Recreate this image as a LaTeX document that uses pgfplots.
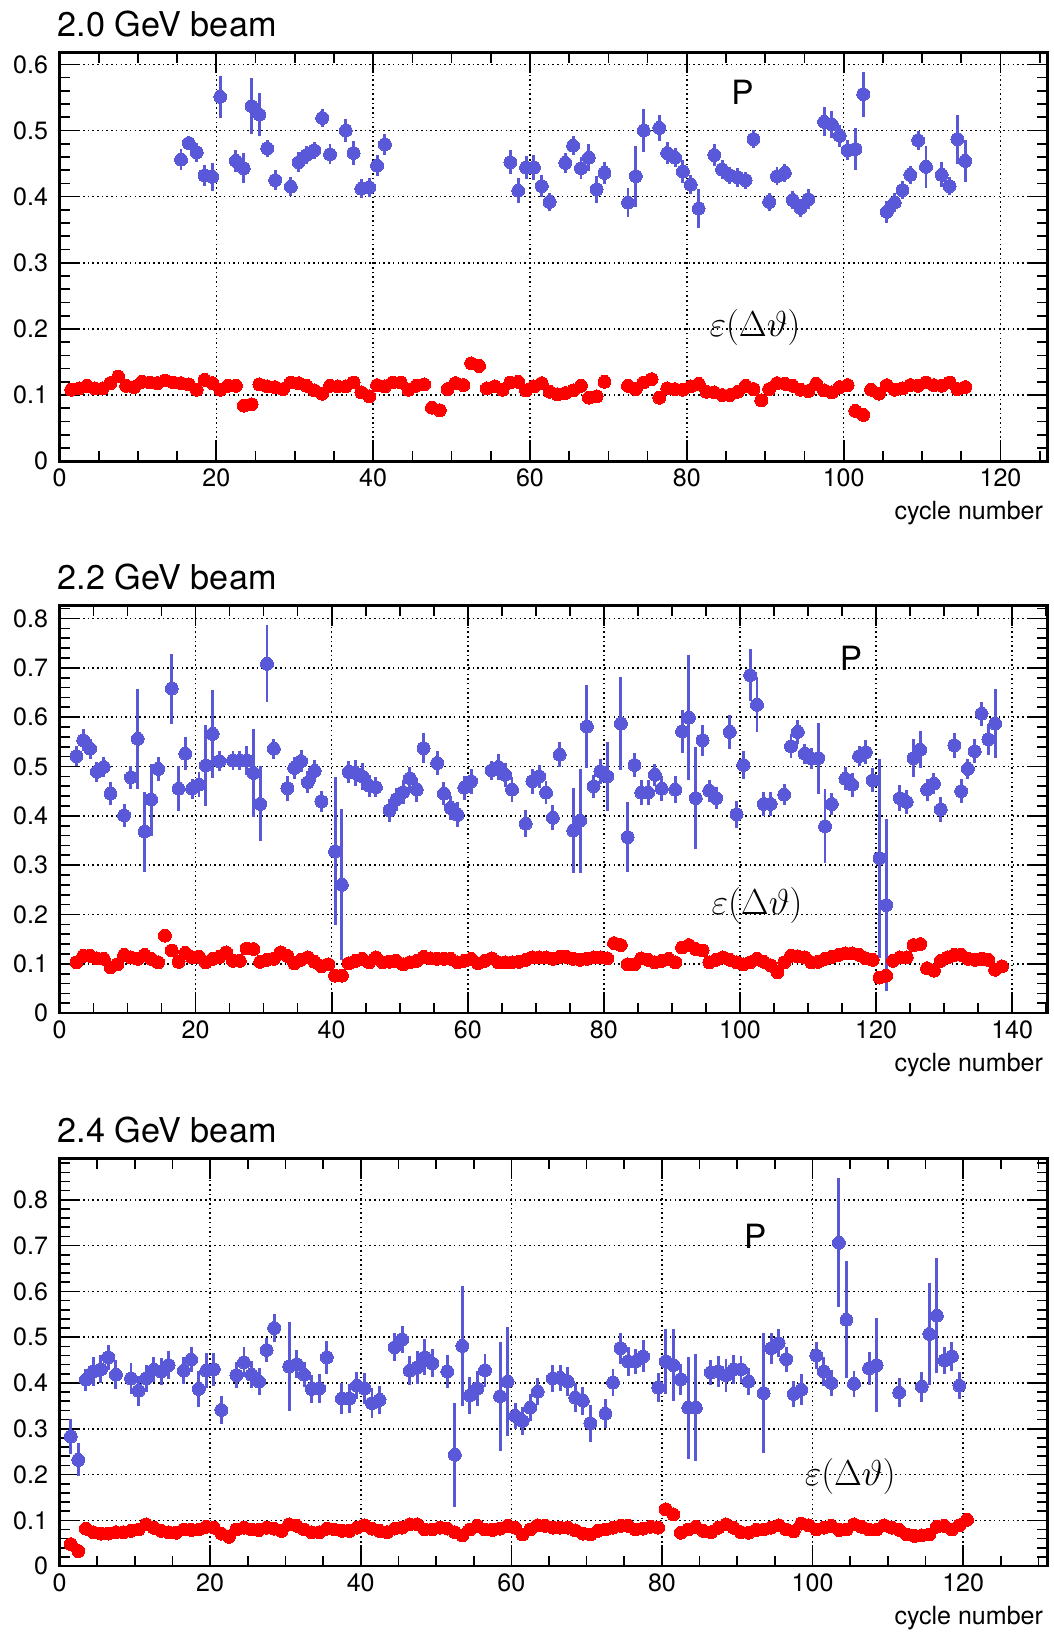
\documentclass[border=0pt]{standalone}
\usepackage{fontspec}
\setmainfont{TeX Gyre Heros}
\usepackage{pgfplots}
\pgfplotsset{compat=1.18}
\usepackage{pgfplotstable}
\definecolor{pblue}{RGB}{88,88,216}
\definecolor{ered}{RGB}{255,0,0}

% ---------- 2.0 GeV ----------
\pgfplotstableread{
x y e
15.5 0.456 0.016
16.5 0.481 0.011
17.5 0.467 0.014
18.5 0.432 0.016
19.5 0.430 0.021
20.5 0.551 0.032
22.5 0.454 0.017
23.5 0.443 0.023
24.5 0.537 0.043
25.5 0.524 0.032
26.5 0.473 0.013
27.5 0.425 0.015
29.5 0.415 0.014
30.5 0.452 0.015
31.5 0.463 0.014
32.5 0.470 0.013
33.5 0.519 0.014
34.5 0.464 0.015
36.5 0.500 0.017
37.5 0.466 0.018
38.5 0.412 0.014
39.5 0.414 0.014
40.5 0.447 0.016
41.5 0.479 0.016
57.5 0.452 0.018
58.5 0.409 0.019
59.5 0.444 0.018
60.5 0.444 0.019
61.5 0.416 0.017
62.5 0.392 0.013
64.5 0.451 0.015
65.5 0.477 0.014
66.5 0.443 0.017
67.5 0.459 0.020
68.5 0.411 0.020
69.5 0.436 0.017
72.5 0.391 0.022
73.5 0.431 0.046
74.5 0.500 0.033
76.5 0.504 0.020
77.5 0.466 0.017
78.5 0.459 0.014
79.5 0.438 0.017
80.5 0.418 0.014
81.5 0.382 0.030
83.5 0.463 0.017
84.5 0.441 0.014
85.5 0.432 0.013
86.5 0.429 0.014
87.5 0.425 0.013
88.5 0.487 0.014
90.5 0.392 0.013
91.5 0.431 0.014
92.5 0.436 0.014
93.5 0.395 0.014
94.5 0.383 0.014
95.5 0.396 0.015
97.5 0.513 0.022
98.5 0.509 0.021
99.5 0.492 0.017
100.5 0.470 0.015
101.5 0.472 0.032
102.5 0.555 0.034
105.5 0.377 0.017
106.5 0.391 0.014
107.5 0.410 0.014
108.5 0.433 0.014
109.5 0.485 0.015
110.5 0.445 0.032
112.5 0.433 0.019
113.5 0.416 0.013
114.5 0.487 0.037
115.5 0.454 0.032
}\pA

\pgfplotstableread{
x y
1.5 0.108
2.5 0.110
3.5 0.114
4.5 0.110
5.5 0.110
6.5 0.118
7.5 0.128
8.5 0.114
9.5 0.112
10.5 0.120
11.5 0.119
12.5 0.118
13.5 0.122
14.5 0.119
15.5 0.118
16.5 0.116
17.5 0.108
18.5 0.123
19.5 0.118
20.5 0.108
21.5 0.114
22.5 0.114
23.5 0.084
24.5 0.086
25.5 0.116
26.5 0.113
27.5 0.112
28.5 0.109
29.5 0.119
30.5 0.118
31.5 0.114
32.5 0.107
33.5 0.102
34.5 0.114
35.5 0.113
36.5 0.113
37.5 0.119
38.5 0.104
39.5 0.098
40.5 0.115
41.5 0.113
42.5 0.119
43.5 0.119
44.5 0.108
45.5 0.114
46.5 0.116
47.5 0.081
48.5 0.077
49.5 0.109
50.5 0.118
51.5 0.115
52.5 0.148
53.5 0.144
54.5 0.110
55.5 0.113
56.5 0.108
57.5 0.119
58.5 0.120
59.5 0.107
60.5 0.113
61.5 0.118
62.5 0.105
63.5 0.101
64.5 0.103
65.5 0.107
66.5 0.114
67.5 0.096
68.5 0.098
69.5 0.120
72.5 0.114
73.5 0.109
74.5 0.119
75.5 0.124
76.5 0.096
77.5 0.110
78.5 0.109
79.5 0.108
80.5 0.113
81.5 0.117
82.5 0.105
83.5 0.104
84.5 0.100
85.5 0.100
86.5 0.105
87.5 0.114
88.5 0.109
89.5 0.092
90.5 0.109
91.5 0.118
92.5 0.117
93.5 0.114
94.5 0.108
95.5 0.106
96.5 0.117
97.5 0.107
98.5 0.104
99.5 0.112
100.5 0.115
101.5 0.076
102.5 0.070
103.5 0.108
104.5 0.102
105.5 0.115
106.5 0.108
107.5 0.110
108.5 0.115
109.5 0.114
110.5 0.119
111.5 0.115
112.5 0.114
113.5 0.119
114.5 0.109
115.5 0.112
}\rA

% ---------- 2.2 GeV ----------
\pgfplotstableread{
x y e
2.5 0.521 0.021
3.5 0.553 0.022
4.5 0.536 0.020
5.5 0.489 0.021
6.5 0.499 0.020
7.5 0.445 0.024
9.5 0.401 0.023
10.5 0.478 0.023
11.5 0.556 0.101
12.5 0.368 0.081
13.5 0.433 0.073
14.5 0.495 0.024
16.5 0.658 0.071
17.5 0.455 0.045
18.5 0.526 0.033
19.5 0.455 0.020
20.5 0.463 0.025
21.5 0.502 0.082
22.5 0.566 0.089
23.5 0.511 0.020
25.5 0.512 0.020
26.5 0.512 0.020
27.5 0.512 0.030
28.5 0.487 0.089
29.5 0.424 0.076
30.5 0.708 0.078
31.5 0.536 0.020
33.5 0.456 0.025
34.5 0.497 0.022
35.5 0.511 0.022
36.5 0.468 0.022
37.5 0.491 0.022
38.5 0.429 0.021
40.5 0.328 0.150
41.5 0.260 0.153
42.5 0.489 0.023
43.5 0.487 0.027
44.5 0.480 0.027
45.5 0.461 0.022
46.5 0.458 0.020
48.5 0.411 0.024
49.5 0.433 0.023
50.5 0.448 0.024
51.5 0.476 0.022
52.5 0.453 0.024
53.5 0.537 0.030
55.5 0.507 0.025
56.5 0.445 0.023
57.5 0.416 0.024
58.5 0.402 0.025
59.5 0.457 0.024
60.5 0.470 0.025
63.5 0.492 0.020
64.5 0.499 0.027
65.5 0.483 0.024
66.5 0.453 0.025
68.5 0.384 0.027
69.5 0.470 0.025
70.5 0.480 0.024
71.5 0.447 0.024
72.5 0.396 0.025
73.5 0.524 0.025
75.5 0.370 0.086
76.5 0.390 0.105
77.5 0.581 0.085
78.5 0.460 0.023
79.5 0.490 0.025
80.5 0.480 0.070
82.5 0.587 0.095
83.5 0.357 0.070
84.5 0.503 0.025
85.5 0.447 0.025
86.5 0.447 0.025
87.5 0.483 0.023
88.5 0.455 0.025
90.5 0.453 0.027
91.5 0.571 0.044
92.5 0.599 0.127
93.5 0.436 0.104
94.5 0.553 0.031
95.5 0.451 0.022
96.5 0.436 0.023
98.5 0.570 0.034
99.5 0.403 0.028
100.5 0.503 0.029
101.5 0.685 0.053
102.5 0.625 0.056
103.5 0.424 0.024
104.5 0.424 0.024
106.5 0.443 0.022
107.5 0.541 0.024
108.5 0.570 0.024
109.5 0.526 0.020
110.5 0.516 0.021
111.5 0.517 0.072
112.5 0.379 0.075
113.5 0.424 0.023
115.5 0.475 0.023
116.5 0.463 0.024
117.5 0.521 0.020
118.5 0.529 0.024
119.5 0.472 0.024
120.5 0.314 0.202
121.5 0.219 0.174
123.5 0.436 0.026
124.5 0.428 0.025
125.5 0.517 0.038
126.5 0.534 0.038
127.5 0.453 0.022
128.5 0.465 0.021
129.5 0.413 0.025
131.5 0.543 0.025
132.5 0.450 0.024
133.5 0.495 0.021
134.5 0.531 0.024
135.5 0.607 0.024
136.5 0.555 0.031
137.5 0.587 0.070
}\pB

\pgfplotstableread{
x y
2.5 0.103
3.5 0.116
4.5 0.116
5.5 0.111
6.5 0.110
7.5 0.093
8.5 0.099
9.5 0.118
10.5 0.113
11.5 0.110
12.5 0.118
13.5 0.110
14.5 0.103
15.5 0.157
16.5 0.127
17.5 0.104
18.5 0.122
19.5 0.113
20.5 0.114
21.5 0.103
22.5 0.110
23.5 0.114
24.5 0.123
25.5 0.106
26.5 0.106
27.5 0.131
28.5 0.130
29.5 0.104
30.5 0.108
31.5 0.110
32.5 0.123
33.5 0.116
34.5 0.101
35.5 0.108
36.5 0.113
37.5 0.104
38.5 0.095
39.5 0.099
40.5 0.076
41.5 0.076
42.5 0.101
43.5 0.106
44.5 0.110
45.5 0.103
46.5 0.113
47.5 0.103
48.5 0.104
49.5 0.106
50.5 0.099
51.5 0.103
52.5 0.106
53.5 0.114
54.5 0.111
55.5 0.110
56.5 0.110
57.5 0.110
58.5 0.103
59.5 0.106
60.5 0.110
61.5 0.101
62.5 0.106
63.5 0.111
64.5 0.103
65.5 0.103
66.5 0.103
67.5 0.104
68.5 0.108
69.5 0.113
70.5 0.113
71.5 0.113
72.5 0.110
73.5 0.114
74.5 0.114
75.5 0.110
76.5 0.108
77.5 0.110
78.5 0.113
79.5 0.113
80.5 0.111
81.5 0.142
82.5 0.138
83.5 0.099
84.5 0.099
85.5 0.111
86.5 0.108
87.5 0.103
88.5 0.106
89.5 0.110
90.5 0.103
91.5 0.133
92.5 0.138
93.5 0.130
94.5 0.127
95.5 0.103
96.5 0.108
97.5 0.113
98.5 0.108
99.5 0.103
100.5 0.099
101.5 0.103
102.5 0.110
103.5 0.104
104.5 0.097
105.5 0.083
106.5 0.103
107.5 0.116
108.5 0.115
109.5 0.113
110.5 0.103
111.5 0.104
112.5 0.110
113.5 0.114
114.5 0.118
115.5 0.121
116.5 0.121
117.5 0.118
118.5 0.111
119.5 0.108
120.5 0.072
121.5 0.076
122.5 0.106
123.5 0.113
124.5 0.113
125.5 0.138
126.5 0.140
127.5 0.091
128.5 0.086
129.5 0.106
130.5 0.113
131.5 0.118
132.5 0.118
133.5 0.110
134.5 0.108
135.5 0.110
136.5 0.108
137.5 0.088
138.5 0.095
}\rB

% ---------- 2.4 GeV ----------
\pgfplotstableread{
x y e
1.5 0.283 0.039
2.5 0.232 0.036
3.5 0.407 0.024
4.5 0.425 0.031
5.5 0.430 0.031
6.5 0.456 0.028
7.5 0.418 0.032
9.5 0.410 0.033
10.5 0.383 0.033
11.5 0.410 0.029
12.5 0.429 0.027
13.5 0.425 0.029
14.5 0.439 0.030
16.5 0.427 0.030
17.5 0.451 0.027
18.5 0.387 0.039
19.5 0.427 0.038
20.5 0.430 0.036
21.5 0.341 0.030
23.5 0.417 0.028
24.5 0.445 0.033
25.5 0.418 0.030
26.5 0.403 0.030
27.5 0.472 0.027
28.5 0.520 0.030
30.5 0.436 0.097
31.5 0.441 0.030
32.5 0.418 0.027
33.5 0.387 0.031
34.5 0.388 0.032
35.5 0.456 0.036
37.5 0.366 0.033
38.5 0.366 0.031
39.5 0.394 0.030
40.5 0.388 0.033
41.5 0.356 0.032
42.5 0.363 0.031
44.5 0.478 0.031
45.5 0.495 0.029
46.5 0.427 0.031
47.5 0.434 0.036
48.5 0.456 0.039
49.5 0.443 0.031
51.5 0.425 0.035
52.5 0.243 0.113
53.5 0.481 0.131
54.5 0.373 0.041
55.5 0.388 0.038
56.5 0.428 0.036
58.5 0.371 0.119
59.5 0.403 0.119
60.5 0.328 0.028
61.5 0.317 0.030
62.5 0.346 0.029
63.5 0.381 0.029
65.5 0.410 0.029
66.5 0.411 0.029
67.5 0.403 0.031
68.5 0.368 0.031
69.5 0.361 0.031
70.5 0.312 0.040
72.5 0.333 0.031
73.5 0.401 0.030
74.5 0.476 0.034
75.5 0.447 0.031
76.5 0.447 0.028
77.5 0.458 0.035
79.5 0.390 0.032
80.5 0.447 0.071
81.5 0.439 0.078
82.5 0.408 0.034
83.5 0.346 0.111
84.5 0.346 0.117
86.5 0.423 0.028
87.5 0.425 0.034
88.5 0.417 0.036
89.5 0.429 0.031
90.5 0.430 0.029
91.5 0.403 0.030
93.5 0.378 0.131
94.5 0.476 0.034
95.5 0.487 0.030
96.5 0.452 0.027
97.5 0.376 0.029
98.5 0.385 0.034
100.5 0.460 0.030
101.5 0.425 0.031
102.5 0.400 0.028
103.5 0.706 0.141
104.5 0.538 0.128
105.5 0.398 0.028
107.5 0.432 0.036
108.5 0.439 0.103
111.5 0.379 0.031
114.5 0.392 0.033
115.5 0.507 0.112
116.5 0.547 0.125
117.5 0.449 0.030
118.5 0.458 0.031
119.5 0.394 0.030
}\pC

\pgfplotstableread{
x y
1.5 0.048
2.5 0.033
3.5 0.082
4.5 0.074
5.5 0.071
6.5 0.071
7.5 0.074
8.5 0.074
9.5 0.077
10.5 0.080
11.5 0.091
12.5 0.084
13.5 0.077
14.5 0.074
15.5 0.073
16.5 0.080
17.5 0.079
18.5 0.080
19.5 0.086
20.5 0.084
21.5 0.071
22.5 0.064
23.5 0.080
24.5 0.084
25.5 0.080
26.5 0.079
27.5 0.084
28.5 0.082
29.5 0.077
30.5 0.091
31.5 0.088
32.5 0.080
33.5 0.074
34.5 0.074
35.5 0.082
36.5 0.080
37.5 0.077
38.5 0.077
39.5 0.084
40.5 0.089
41.5 0.082
42.5 0.077
43.5 0.074
44.5 0.082
45.5 0.084
46.5 0.091
47.5 0.091
48.5 0.080
49.5 0.080
50.5 0.084
51.5 0.082
52.5 0.074
53.5 0.067
54.5 0.080
55.5 0.088
56.5 0.080
57.5 0.079
58.5 0.082
59.5 0.088
60.5 0.084
61.5 0.069
62.5 0.080
63.5 0.089
64.5 0.088
65.5 0.084
66.5 0.084
67.5 0.084
68.5 0.078
69.5 0.071
70.5 0.069
71.5 0.077
72.5 0.080
73.5 0.084
74.5 0.088
75.5 0.088
76.5 0.080
77.5 0.082
78.5 0.086
79.5 0.084
80.5 0.124
81.5 0.113
82.5 0.073
83.5 0.080
84.5 0.086
85.5 0.077
86.5 0.074
87.5 0.084
88.5 0.091
89.5 0.084
90.5 0.074
91.5 0.073
92.5 0.079
93.5 0.080
94.5 0.084
95.5 0.089
96.5 0.080
97.5 0.076
98.5 0.093
99.5 0.089
100.5 0.080
101.5 0.084
102.5 0.088
103.5 0.079
104.5 0.080
105.5 0.091
106.5 0.086
107.5 0.080
108.5 0.080
109.5 0.089
110.5 0.084
111.5 0.079
112.5 0.069
113.5 0.066
114.5 0.067
115.5 0.069
116.5 0.086
117.5 0.088
118.5 0.080
119.5 0.089
120.5 0.101
}\rC

\pgfplotsset{
  rootpanel/.style={
    scale only axis, width=473.5pt, anchor=north west,
    xmin=0, ymin=0,
    axis line style={line width=1.3pt},
    tick align=inside,
    major tick length=10pt, minor tick length=5pt,
    tick style={line width=0.8pt, black},
    xmajorgrids, ymajorgrids,
    major grid style={line width=0.75pt, black, dash pattern=on 0.75pt off 1.5pt},
    xtick={0,20,40,60,80,100,120,140},
    minor xtick={0,5,...,145},
    tick label style={font=\fontsize{12}{14}\selectfont},
    yticklabel style={xshift=-2pt},
    /pgf/number format/assume math mode=true,
    y tick label style={/pgf/number format/.cd, fixed, precision=1},
    x tick label style={/pgf/number format/.cd, fixed, precision=0},
    title style={at={(rel axis cs:0,1)}, anchor=base west, inner sep=0pt,
      yshift=1.5pt, xshift=-1pt, font=\fontsize{16.4}{19}\selectfont},
    xlabel={cycle number},
    xlabel style={at={(rel axis cs:1,0)}, anchor=base east, inner sep=0pt,
      yshift=-28pt, xshift=-2pt, font=\fontsize{12}{14}\selectfont},
  },
  pser/.style={only marks, mark=*, mark size=3.1pt, color=pblue,
    mark options={fill=pblue, draw=pblue, line width=0pt},
    error bars/.cd, y dir=both, y explicit,
    error bar style={line width=1.4pt, pblue}, error mark=none},
  eser/.style={only marks, mark=*, mark size=3.1pt, color=ered,
    mark options={fill=ered, draw=ered, line width=0pt}},
}

\begin{document}
\begin{tikzpicture}
\path[use as bounding box] (0,0) rectangle (505pt,-784pt);

\begin{axis}[rootpanel, at={(28.5pt,-25pt)}, height=196pt,
  xmax=126, ymax=0.6185,
  ytick={0,0.1,0.2,0.3,0.4,0.5,0.6},
  minor ytick={0,0.02,...,0.62},
  title={2.0 GeV beam}]
\addplot[eser] table[x=x,y=y] {\rA};
\addplot[pser] table[x=x,y=y,y error=e] {\pA};
\node[font=\fontsize{16}{18}\selectfont] at (axis cs:87.1,0.558) {P};
\node[font=\fontsize{17}{20}\selectfont] at (axis cs:88.7,0.202) {$\varepsilon(\Delta\vartheta)$};
\end{axis}

\begin{axis}[rootpanel, at={(28.5pt,-290pt)}, height=195.5pt,
  xmax=145.2, ymax=0.827,
  ytick={0,0.1,0.2,0.3,0.4,0.5,0.6,0.7,0.8},
  minor ytick={0,0.02,...,0.82},
  title={2.2 GeV beam}]
\addplot[eser] table[x=x,y=y] {\rB};
\addplot[pser] table[x=x,y=y,y error=e] {\pB};
\node[font=\fontsize{16}{18}\selectfont] at (axis cs:116.3,0.72) {P};
\node[font=\fontsize{17}{20}\selectfont] at (axis cs:102.5,0.219) {$\varepsilon(\Delta\vartheta)$};
\end{axis}

\begin{axis}[rootpanel, at={(28.5pt,-555pt)}, height=195.5pt,
  xmax=131.2, ymax=0.891,
  ytick={0,0.1,0.2,0.3,0.4,0.5,0.6,0.7,0.8},
  minor ytick={0,0.02,...,0.88},
  title={2.4 GeV beam}]
\addplot[eser] table[x=x,y=y] {\rC};
\addplot[pser] table[x=x,y=y,y error=e] {\pC};
\node[font=\fontsize{16}{18}\selectfont] at (axis cs:92.4,0.721) {P};
\node[font=\fontsize{17}{20}\selectfont] at (axis cs:105,0.196) {$\varepsilon(\Delta\vartheta)$};
\end{axis}
\end{tikzpicture}
\end{document}
